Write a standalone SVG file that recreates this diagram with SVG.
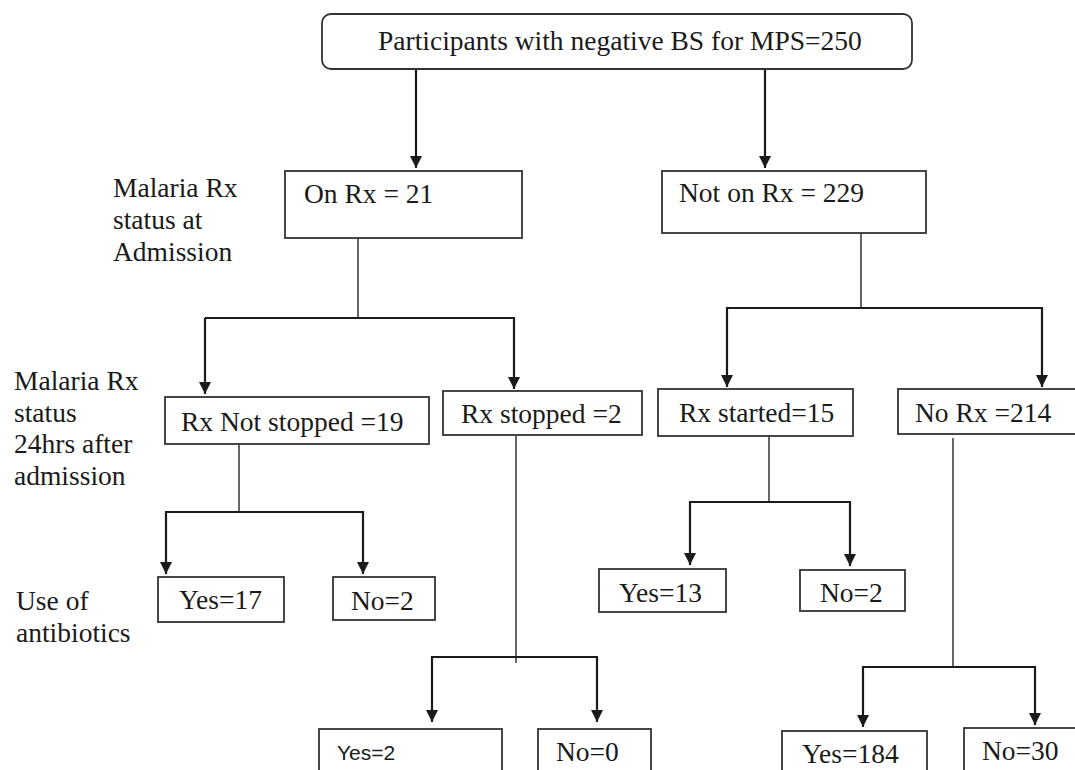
<svg xmlns="http://www.w3.org/2000/svg" width="1075" height="770" viewBox="0 0 1075 770">
<defs>
<marker id="ah" viewBox="0 0 10 10" refX="10" refY="5" markerWidth="13" markerHeight="12" markerUnits="userSpaceOnUse" orient="auto">
<path d="M0,0 L10,5 L0,10 z" fill="#1a1a1a"/>
</marker>
</defs>
<style>
.box{fill:#fff;stroke:#333;stroke-width:1.8}
.t{font-family:"Liberation Serif","Times New Roman",serif;font-size:27.5px;fill:#1a1a1a}
.s{font-family:"Liberation Sans",Arial,sans-serif;font-size:21px;fill:#1a1a1a}
.arr{fill:none;stroke:#1a1a1a;stroke-width:2.2;marker-end:url(#ah)}
.ln{fill:none;stroke:#333;stroke-width:1.5}
.hl{fill:none;stroke:#1a1a1a;stroke-width:2.2}
</style>
<rect width="1075" height="770" fill="#fff"/>

<g id="labels">
<text class="t" x="113" y="197">Malaria Rx</text>
<text class="t" x="113" y="229">status at</text>
<text class="t" x="113" y="261">Admission</text>
<text class="t" x="14" y="390">Malaria Rx</text>
<text class="t" x="14" y="422">status</text>
<text class="t" x="14" y="453">24hrs after</text>
<text class="t" x="14" y="485">admission</text>
<text class="t" x="16" y="610">Use of</text>
<text class="t" x="16" y="642">antibiotics</text>
</g>

<g id="connectors">
<line class="arr" x1="416" y1="69" x2="416" y2="168"/>
<line class="arr" x1="765" y1="69" x2="765" y2="168"/>
<polyline class="ln" points="358,238 358,318"/>
<polyline class="arr" points="205,318 205,394"/>
<polyline class="arr" points="358,318 514,318 514,389"/>
<line class="hl" x1="205" y1="318" x2="358" y2="318"/>
<polyline class="ln" points="861,233 861,308"/>
<polyline class="arr" points="861,308 727,308 727,387"/>
<polyline class="arr" points="861,308 1042,308 1042,387"/>
<polyline class="ln" points="239,444 239,512"/>
<polyline class="arr" points="239,512 166,512 166,574"/>
<polyline class="arr" points="239,512 363,512 363,574"/>
<polyline class="ln" points="516,436 516,663"/>
<polyline class="arr" points="516,657 432,657 432,722"/>
<polyline class="arr" points="516,657 597,657 597,722"/>
<polyline class="ln" points="769,436 769,502"/>
<polyline class="arr" points="769,502 690,502 690,565"/>
<polyline class="arr" points="769,502 850,502 850,566"/>
<polyline class="ln" points="953,438 953,668"/>
<polyline class="arr" points="953,667 863,667 863,727"/>
<polyline class="arr" points="953,667 1035,667 1035,725"/>
</g>

<g id="n-top">
<rect class="box" x="322" y="14" width="590" height="55" rx="9"/>
<text class="t" x="378" y="50">Participants with negative BS for MPS=250</text>
</g>
<g id="n-onrx">
<rect class="box" x="285" y="171" width="237" height="67"/>
<text class="t" x="304" y="203">On Rx = 21</text>
</g>
<g id="n-notonrx">
<rect class="box" x="662" y="171" width="264" height="62"/>
<text class="t" x="679" y="202">Not on Rx = 229</text>
</g>
<g id="n-notstopped">
<rect class="box" x="165" y="397" width="264" height="47"/>
<text class="t" x="181" y="431">Rx Not stopped =19</text>
</g>
<g id="n-stopped">
<rect class="box" x="443" y="391" width="199" height="44"/>
<text class="t" x="461" y="423">Rx stopped =2</text>
</g>
<g id="n-started">
<rect class="box" x="658" y="389" width="195" height="47"/>
<text class="t" x="679" y="422">Rx started=15</text>
</g>
<g id="n-norx">
<rect class="box" x="898" y="389" width="190" height="45"/>
<text class="t" x="915" y="422">No Rx =214</text>
</g>
<g id="n-yes17">
<rect class="box" x="158" y="577" width="126" height="45"/>
<text class="t" x="179" y="609">Yes=17</text>
</g>
<g id="n-no2a">
<rect class="box" x="333" y="577" width="102" height="43"/>
<text class="t" x="351" y="610">No=2</text>
</g>
<g id="n-yes13">
<rect class="box" x="599" y="569" width="127" height="43"/>
<text class="t" x="619" y="602">Yes=13</text>
</g>
<g id="n-no2b">
<rect class="box" x="800" y="570" width="105" height="41"/>
<text class="t" x="820" y="602">No=2</text>
</g>
<g id="n-yes2">
<rect class="box" x="319" y="729" width="183" height="50"/>
<text class="s" x="337" y="760">Yes=2</text>
</g>
<g id="n-no0">
<rect class="box" x="538" y="729" width="113" height="50"/>
<text class="t" x="556" y="761">No=0</text>
</g>
<g id="n-yes184">
<rect class="box" x="782" y="731" width="145" height="50"/>
<text class="t" x="802" y="763">Yes=184</text>
</g>
<g id="n-no30">
<rect class="box" x="964" y="728" width="130" height="50"/>
<text class="t" x="982" y="760">No=30</text>
</g>
</svg>
